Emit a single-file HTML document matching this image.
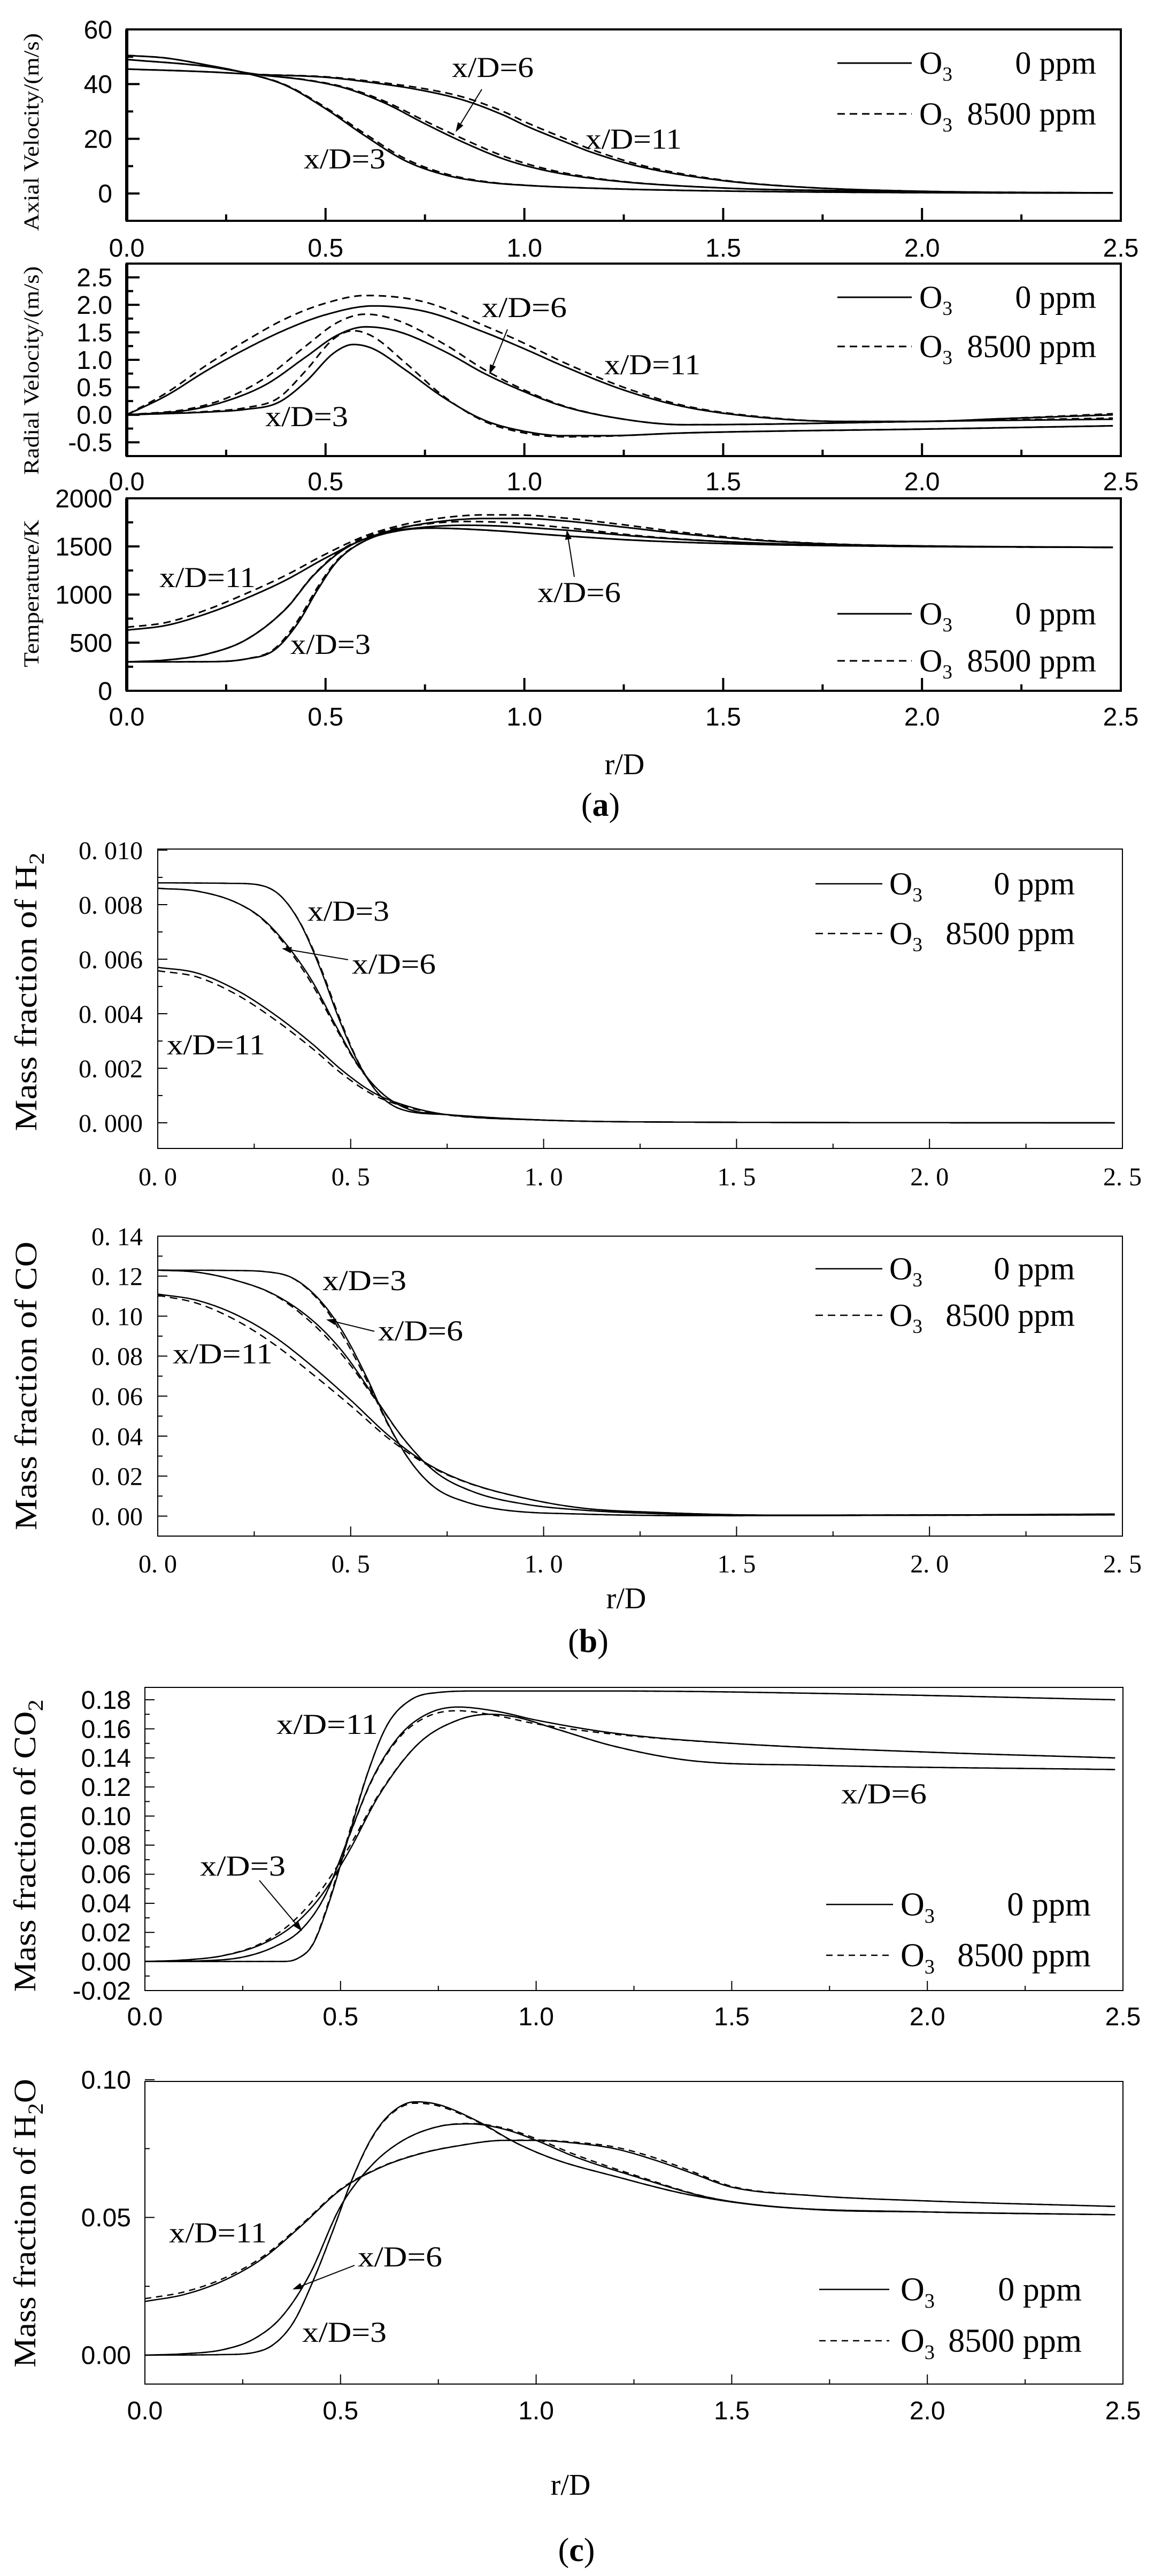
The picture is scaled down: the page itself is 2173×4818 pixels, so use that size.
<!DOCTYPE html>
<html><head><meta charset="utf-8"><style>
html,body{margin:0;padding:0;background:#fff;}
svg{display:block;}
</style></head><body>
<svg id="s" xmlns="http://www.w3.org/2000/svg" width="2173" height="4818" viewBox="0 0 2173 4818">
<rect width="2173" height="4818" fill="#fff"/>
<g font-family="Liberation Serif, serif" fill="#000">
<!-- captions -->
<text x="1123" y="1526" font-size="62" text-anchor="middle">(<tspan font-weight="bold">a</tspan>)</text>
<text x="1100" y="3090" font-size="62" text-anchor="middle">(<tspan font-weight="bold">b</tspan>)</text>
<text x="1078" y="4790" font-size="62" text-anchor="middle">(<tspan font-weight="bold">c</tspan>)</text>
<text x="1168" y="1448" font-size="56" text-anchor="middle">r/D</text>
<text x="1171" y="3008" font-size="56" text-anchor="middle">r/D</text>
<text x="1067" y="4666" font-size="56" text-anchor="middle">r/D</text>
<!-- y titles -->
<text transform="translate(72,247) rotate(-90)" font-size="40" text-anchor="middle" textLength="370" lengthAdjust="spacingAndGlyphs">Axial Velocity/(m/s)</text>
<text transform="translate(72,693) rotate(-90)" font-size="40" text-anchor="middle" textLength="390" lengthAdjust="spacingAndGlyphs">Radial Velocity/(m/s)</text>
<text transform="translate(72,1110) rotate(-90)" font-size="40" text-anchor="middle" textLength="276" lengthAdjust="spacingAndGlyphs">Temperature/K</text>
<text transform="translate(68,1855) rotate(-90)" font-size="58" text-anchor="middle" textLength="521" lengthAdjust="spacingAndGlyphs">Mass fraction of H<tspan font-size="40" dy="14">2</tspan></text>
<text transform="translate(68,2592) rotate(-90)" font-size="58" text-anchor="middle" textLength="540" lengthAdjust="spacingAndGlyphs">Mass fraction of CO</text>
<text transform="translate(66,3452) rotate(-90)" font-size="58" text-anchor="middle" textLength="547" lengthAdjust="spacingAndGlyphs">Mass fraction of CO<tspan font-size="40" dy="14">2</tspan></text>
<text transform="translate(66,4158) rotate(-90)" font-size="58" text-anchor="middle" textLength="540" lengthAdjust="spacingAndGlyphs">Mass fraction of H<tspan font-size="40" dy="14">2</tspan><tspan dy="-14">O</tspan></text>
<!-- annotations -->
<g font-size="54">
<text x="845" y="144" textLength="153" lengthAdjust="spacingAndGlyphs">x/D=6</text>
<text x="1095" y="278" textLength="180" lengthAdjust="spacingAndGlyphs">x/D=11</text>
<text x="568" y="315" textLength="153" lengthAdjust="spacingAndGlyphs">x/D=3</text>
<text x="901" y="593" textLength="159" lengthAdjust="spacingAndGlyphs">x/D=6</text>
<text x="1130" y="700" textLength="180" lengthAdjust="spacingAndGlyphs">x/D=11</text>
<text x="496" y="797" textLength="155" lengthAdjust="spacingAndGlyphs">x/D=3</text>
<text x="298" y="1098" textLength="180" lengthAdjust="spacingAndGlyphs">x/D=11</text>
<text x="543" y="1223" textLength="150" lengthAdjust="spacingAndGlyphs">x/D=3</text>
<text x="1005" y="1126" textLength="156" lengthAdjust="spacingAndGlyphs">x/D=6</text>
<text x="575" y="1722" textLength="153" lengthAdjust="spacingAndGlyphs">x/D=3</text>
<text x="658" y="1821" textLength="157" lengthAdjust="spacingAndGlyphs">x/D=6</text>
<text x="312" y="1972" textLength="184" lengthAdjust="spacingAndGlyphs">x/D=11</text>
<text x="603" y="2413" textLength="157" lengthAdjust="spacingAndGlyphs">x/D=3</text>
<text x="707" y="2507" textLength="159" lengthAdjust="spacingAndGlyphs">x/D=6</text>
<text x="323" y="2550" textLength="187" lengthAdjust="spacingAndGlyphs">x/D=11</text>
<text x="517" y="3243" textLength="190" lengthAdjust="spacingAndGlyphs">x/D=11</text>
<text x="1573" y="3373" textLength="160" lengthAdjust="spacingAndGlyphs">x/D=6</text>
<text x="374" y="3508" textLength="160" lengthAdjust="spacingAndGlyphs">x/D=3</text>
<text x="316" y="4194" textLength="183" lengthAdjust="spacingAndGlyphs">x/D=11</text>
<text x="669" y="4239" textLength="158" lengthAdjust="spacingAndGlyphs">x/D=6</text>
<text x="565" y="4380" textLength="158" lengthAdjust="spacingAndGlyphs">x/D=3</text>
</g>
</g>
<g id="dyn"></g>
</svg>
<script>
(function(){
var NS="http://www.w3.org/2000/svg";var G=document.getElementById("dyn");
function el(t,a,txt){var e=document.createElementNS(NS,t);for(var k in a)e.setAttribute(k,a[k]);if(txt!==undefined)e.textContent=txt;G.appendChild(e);return e;}
function interp(p){var n=p.length,xs=p.map(function(a){return a[0]}),ys=p.map(function(a){return a[1]}),d=[],m=[],i;
for(i=0;i<n-1;i++)d[i]=(ys[i+1]-ys[i])/(xs[i+1]-xs[i]);
m[0]=d[0];m[n-1]=d[n-2];for(i=1;i<n-1;i++)m[i]=(d[i-1]*d[i]<=0)?0:(d[i-1]+d[i])/2;
for(i=0;i<n-1;i++){if(d[i]===0){m[i]=0;m[i+1]=0;}else{var a=m[i]/d[i],b=m[i+1]/d[i],s=a*a+b*b;if(s>9){var t=3/Math.sqrt(s);m[i]=t*a*d[i];m[i+1]=t*b*d[i];}}}
return function(x){if(x<=xs[0])return ys[0];if(x>=xs[n-1])return ys[n-1];var k=0;while(x>xs[k+1])k++;var h=xs[k+1]-xs[k],t=(x-xs[k])/h,t2=t*t,t3=t2*t;
return (2*t3-3*t2+1)*ys[k]+(t3-2*t2+t)*h*m[k]+(-2*t3+3*t2)*ys[k+1]+(t3-t2)*h*m[k+1];};}
function sh(p,f){return p.map(function(a){return [a[0],a[1]+f(a[0])];});}
function bump(c,w,amp){return function(x){return amp*Math.exp(-Math.pow((x-c)/w,2));};}
function panel(c){
var L=c.L,R=c.R,T=c.T,B=c.B;
function X(r){return L+r/2.5*(R-L);}function Y(v){return T+(c.ymax-v)/(c.ymax-c.ymin)*(B-T);}
c.curves.forEach(function(cv){var f=interp(cv.p);var x1=cv.x1||2.48;var d="";for(var i=0;i<=300;i++){var r=x1*i/300;var y=Y(f(r));y=Math.max(T,Math.min(B,y));d+=(i?"L":"M")+X(r).toFixed(1)+","+y.toFixed(1);}
var a={d:d,fill:"none",stroke:"#000","stroke-width":c.lw};if(cv.dash)a["stroke-dasharray"]=c.dash;el("path",a);});
el("rect",{x:L,y:T,width:R-L,height:B-T,fill:"none",stroke:"#000","stroke-width":c.fw});
if(c.thickLeft){el("line",{x1:L,y1:T,x2:L,y2:B,stroke:"#000","stroke-width":c.thickLeft});}
for(var j=0;j<=10;j++){var r=j*0.25,maj=(j%2===0),x=X(r);if(j>0&&j<10)el("line",{x1:x,y1:B,x2:x,y2:B-(maj?c.tk:c.tk/2),stroke:"#000","stroke-width":c.tw});
if(maj)el("text",{x:x,y:c.xly,"font-size":c.fs,"font-family":c.ff,"text-anchor":"middle"},c.xfmt(r));}
c.yt.forEach(function(t){var y=Y(t[0]);el("line",{x1:L,y1:y,x2:L+(t[2]?c.tk:c.tk/2),y2:y,stroke:"#000","stroke-width":c.tw});
if(t[1]!==null)el("text",{x:c.ylx,y:y+c.fs*0.35,"font-size":c.fs,"font-family":c.ff,"text-anchor":"end"},t[1]);});
var lg=c.lg;el("line",{x1:lg.x1,y1:lg.y1,x2:lg.x2,y2:lg.y1,stroke:"#000","stroke-width":c.lw});
el("line",{x1:lg.x1,y1:lg.y2,x2:lg.x2,y2:lg.y2,stroke:"#000","stroke-width":c.lw,"stroke-dasharray":c.dash});
var fsL=lg.fs;
var t1=el("text",{x:lg.tx,y:lg.y1+fsL*0.33,"font-size":fsL,"font-family":"Liberation Serif, serif"});t1.innerHTML='O<tspan font-size="'+(fsL*0.62)+'" dy="'+(fsL*0.22)+'">3</tspan>';
el("text",{x:lg.end,y:lg.y1+fsL*0.33,"font-size":fsL,"font-family":"Liberation Serif, serif","text-anchor":"end"},"0 ppm");
var t2=el("text",{x:lg.tx,y:lg.y2+fsL*0.33,"font-size":fsL,"font-family":"Liberation Serif, serif"});t2.innerHTML='O<tspan font-size="'+(fsL*0.62)+'" dy="'+(fsL*0.22)+'">3</tspan>';
el("text",{x:lg.end,y:lg.y2+fsL*0.33,"font-size":fsL,"font-family":"Liberation Serif, serif","text-anchor":"end"},"8500 ppm");
(c.arrows||[]).forEach(function(a){var dx=a[2]-a[0],dy=a[3]-a[1],l=Math.sqrt(dx*dx+dy*dy),ux=dx/l,uy=dy/l,hl=18,hw=6;
el("line",{x1:a[0],y1:a[1],x2:a[2]-ux*hl,y2:a[3]-uy*hl,stroke:"#000","stroke-width":2});
var bx=a[2]-ux*hl,by=a[3]-uy*hl;el("polygon",{points:a[2]+","+a[3]+" "+(bx-uy*hw)+","+(by+ux*hw)+" "+(bx+uy*hw)+","+(by-ux*hw),fill:"#000"});});
}
function f1(r){return r.toFixed(1);}function fb(r){return r.toFixed(1).replace(".",". ");}
var SANS="Liberation Sans, sans-serif",SER="Liberation Serif, serif";
var v3=[[0,50.5],[0.1,49.5],[0.2,47],[0.3,44],[0.4,39.5],[0.5,31],[0.6,21],[0.7,12],[0.8,6.8],[0.9,4.2],[1.0,3],[1.2,1.8],[1.5,0.9],[2,0.3],[2.48,0.2]];
var v6=[[0,49],[0.2,46.5],[0.33,43.5],[0.45,41.5],[0.55,38.5],[0.65,33],[0.75,25.5],[0.85,18.5],[0.95,12.5],[1.05,8.5],[1.2,5],[1.5,2],[1.8,1],[2.2,0.3],[2.48,0.2]];
var v11=[[0,45.5],[0.2,44.5],[0.33,43.5],[0.5,42.5],[0.62,40.5],[0.75,37.5],[0.85,34],[0.95,28.5],[1.0,25],[1.1,19],[1.17,15],[1.3,9.5],[1.5,4.7],[1.7,2.3],[2,0.8],[2.48,0.2]];
panel({L:237,R:2096,T:55,B:413,ymin:-10,ymax:60,lw:3,fw:4,tw:4,tk:24,dash:"14,9",fs:48,ff:SANS,xly:480,ylx:210,xfmt:f1,thickLeft:6,
yt:[[0,"0",1],[10,null,0],[20,"20",1],[30,null,0],[40,"40",1],[50,null,0],[60,"60",1]],
curves:[{p:v3},{p:sh(v3,bump(0.65,0.2,0.8)),dash:1},{p:v6},{p:sh(v6,bump(0.85,0.25,1.2)),dash:1},{p:v11},{p:sh(v11,bump(1.0,0.35,1.3)),dash:1}],
lg:{x1:1566,x2:1705,y1:118,y2:213,tx:1719,end:2050,fs:60},arrows:[[901,167,852,247]]});
panel({L:237,R:2096,T:493,B:853,ymin:-0.75,ymax:2.75,lw:3,fw:4,tw:4,tk:24,dash:"14,9",fs:48,ff:SANS,xly:917,ylx:210,xfmt:f1,thickLeft:6,
yt:(function(){var o=[];for(var v=-0.5;v<=2.51;v+=0.25){var k=Math.round(v*4);o.push([v,(k%2===0)?v.toFixed(1):null,k%2===0]);}return o;})(),
curves:[{p:[[0,0],[0.1,0.35],[0.2,0.8],[0.3,1.2],[0.4,1.55],[0.5,1.82],[0.62,1.98],[0.75,1.88],[0.9,1.5],[1.0,1.2],[1.1,0.88],[1.25,0.45],[1.4,0.15],[1.6,-0.05],[1.8,-0.12],[2.0,-0.12],[2.2,-0.07],[2.48,0.0]]},
{p:[[0,0],[0.1,0.4],[0.2,0.9],[0.3,1.35],[0.4,1.75],[0.5,2.03],[0.6,2.17],[0.75,2.05],[0.9,1.62],[1.0,1.3],[1.1,0.95],[1.25,0.5],[1.4,0.17],[1.6,-0.04],[1.8,-0.12],[2.0,-0.12],[2.2,-0.07],[2.48,0.02]],dash:1},
{p:[[0,0],[0.15,0.08],[0.25,0.25],[0.35,0.55],[0.45,1.05],[0.53,1.45],[0.6,1.6],[0.68,1.52],[0.8,1.15],[0.9,0.75],[1.0,0.42],[1.1,0.15],[1.25,-0.08],[1.4,-0.18],[1.6,-0.17],[2.0,-0.12],[2.48,-0.08]]},
{p:[[0,0],[0.15,0.1],[0.25,0.3],[0.35,0.68],[0.45,1.25],[0.53,1.68],[0.6,1.83],[0.68,1.72],[0.8,1.28],[0.9,0.82],[1.0,0.45],[1.1,0.16],[1.25,-0.08],[1.4,-0.18],[1.6,-0.17],[2.0,-0.12],[2.48,-0.06]],dash:1},
{p:[[0,0],[0.2,0.05],[0.3,0.1],[0.38,0.22],[0.45,0.6],[0.52,1.12],[0.57,1.28],[0.62,1.2],[0.7,0.82],[0.8,0.3],[0.9,-0.1],[1.0,-0.3],[1.1,-0.38],[1.2,-0.38],[1.4,-0.33],[1.6,-0.3],[2.0,-0.26],[2.48,-0.2]]},
{p:[[0,0],[0.2,0.06],[0.3,0.13],[0.38,0.3],[0.45,0.8],[0.52,1.38],[0.57,1.53],[0.62,1.42],[0.7,0.95],[0.8,0.32],[0.9,-0.12],[1.0,-0.33],[1.1,-0.4],[1.2,-0.39],[1.4,-0.33],[1.6,-0.3],[2.0,-0.26],[2.48,-0.2]],dash:1}],
lg:{x1:1566,x2:1705,y1:556,y2:648,tx:1719,end:2050,fs:60},arrows:[[949,616,915,700]]});
var t6=[[0,300],[0.1,320],[0.2,380],[0.3,530],[0.4,850],[0.47,1200],[0.55,1480],[0.65,1640],[0.75,1700],[0.85,1720],[0.95,1710],[1.1,1670],[1.3,1600],[1.5,1550],[1.8,1510],[2.48,1490]];
var t3=[[0,300],[0.2,302],[0.3,330],[0.37,420],[0.43,700],[0.48,1050],[0.53,1350],[0.6,1560],[0.68,1660],[0.77,1690],[0.9,1670],[1.1,1610],[1.3,1560],[1.6,1520],[2.0,1500],[2.48,1490]];
panel({L:237,R:2096,T:932,B:1292,ymin:0,ymax:2000,lw:3,fw:4,tw:4,tk:24,dash:"14,9",fs:48,ff:SANS,xly:1357,ylx:210,xfmt:f1,thickLeft:6,
yt:(function(){var o=[];for(var v=0;v<=2000;v+=250){var k=v/250;o.push([v,(k%2===0)?String(v):null,k%2===0]);}return o;})(),
curves:[{p:[[0,630],[0.1,680],[0.2,800],[0.3,960],[0.4,1150],[0.5,1380],[0.6,1580],[0.7,1700],[0.8,1765],[0.9,1790],[1.0,1790],[1.1,1765],[1.25,1700],[1.4,1630],[1.6,1560],[1.8,1520],[2.0,1505],[2.48,1490]]},
{p:[[0,660],[0.1,710],[0.2,840],[0.3,1010],[0.4,1200],[0.5,1420],[0.6,1610],[0.7,1730],[0.8,1800],[0.9,1828],[1.0,1825],[1.1,1795],[1.25,1725],[1.4,1645],[1.6,1565],[1.8,1522],[2.0,1505],[2.48,1490]],dash:1},
{p:t6},{p:sh(t6,bump(0.9,0.3,40)),dash:1},{p:t3},{p:sh(t3,bump(0.45,0.08,30)),dash:1}],
lg:{x1:1566,x2:1705,y1:1148,y2:1236,tx:1719,end:2050,fs:60},arrows:[[1074,1079,1060,991]]});
var h3=[[0,0.0088],[0.2,0.00878],[0.27,0.0087],[0.32,0.0083],[0.37,0.0073],[0.42,0.0057],[0.47,0.0038],[0.52,0.0022],[0.57,0.0011],[0.63,0.0005],[0.75,0.0003],[1.0,0.0001],[1.3,0.00003],[2.48,0]];
var h6=[[0,0.0086],[0.1,0.0085],[0.2,0.0081],[0.27,0.0075],[0.33,0.0066],[0.4,0.0052],[0.46,0.0036],[0.52,0.0021],[0.58,0.0011],[0.65,0.0005],[0.75,0.0003],[1.0,0.0001],[1.3,0.00003],[2.48,0]];
var h11=[[0,0.0057],[0.1,0.0055],[0.2,0.0049],[0.3,0.004],[0.4,0.0029],[0.48,0.0019],[0.56,0.0011],[0.65,0.0006],[0.75,0.0003],[1.0,0.0001],[1.3,0.00003],[2.48,0]];
panel({L:295,R:2099,T:1588,B:2148,ymin:-0.00094,ymax:0.01004,lw:2.5,fw:2,tw:2,tk:18,dash:"14,9",fs:48,ff:SER,xly:2217,ylx:267,xfmt:fb,
yt:(function(){var o=[];for(var k=0;k<=10;k++){var v=k*0.001;o.push([v,(k%2===0)?("0. "+("00"+k).slice(-3)):null,k%2===0]);}return o;})(),
curves:[{p:h3},{p:sh(h3,bump(0.45,0.06,0.0001)),dash:1},{p:h6},{p:sh(h6,bump(0.4,0.1,-0.00012)),dash:1},{p:h11},{p:sh(h11,function(x){return -0.00017*Math.exp(-Math.pow((x-0.35)/0.25,2))-0.0001*Math.exp(-x*x/0.05);}),dash:1}],
lg:{x1:1525,x2:1650,y1:1653,y2:1746,tx:1663,end:2010,fs:60},arrows:[[651,1795,527,1774]]});
var co3=[[0,0.123],[0.2,0.1228],[0.28,0.1222],[0.35,0.119],[0.42,0.108],[0.48,0.092],[0.54,0.07],[0.6,0.045],[0.66,0.026],[0.72,0.014],[0.8,0.007],[0.9,0.003],[1.1,0.001],[1.5,0.0002],[2.48,0.001]];
var co6=[[0,0.123],[0.1,0.122],[0.2,0.118],[0.3,0.111],[0.4,0.098],[0.48,0.082],[0.56,0.06],[0.64,0.038],[0.72,0.022],[0.82,0.012],[0.95,0.006],[1.1,0.003],[1.3,0.0012],[1.6,0.0003],[2.48,0.0006]];
var co11=[[0,0.111],[0.1,0.108],[0.2,0.101],[0.3,0.09],[0.4,0.075],[0.5,0.058],[0.6,0.04],[0.7,0.026],[0.8,0.017],[0.95,0.009],[1.1,0.004],[1.3,0.0018],[1.6,0.0005],[2.48,0.0008]];
panel({L:295,R:2099,T:2312,B:2873,ymin:-0.01,ymax:0.14,lw:2.5,fw:2,tw:2,tk:18,dash:"14,9",fs:48,ff:SER,xly:2941,ylx:267,xfmt:fb,
yt:(function(){var o=[];for(var k=0;k<=14;k++){var v=k*0.01;o.push([v,(k%2===0)?("0. "+("0"+k).slice(-2)):null,k%2===0]);}return o;})(),
curves:[{p:co3},{p:sh(co3,bump(0.5,0.08,-0.002)),dash:1},{p:co6},{p:sh(co6,bump(0.45,0.1,-0.002)),dash:1},{p:co11},{p:sh(co11,bump(0.35,0.25,-0.004)),dash:1}],
lg:{x1:1525,x2:1650,y1:2373,y2:2460,tx:1663,end:2010,fs:60},arrows:[[700,2490,610,2468]]});
var cA=[[0,0],[0.35,0],[0.39,0.002],[0.43,0.012],[0.47,0.04],[0.52,0.085],[0.57,0.13],[0.62,0.163],[0.68,0.18],[0.75,0.185],[0.85,0.186],[1.2,0.186],[1.8,0.184],[2.48,0.18]];
var cB=[[0,0],[0.15,0.0005],[0.25,0.003],[0.33,0.01],[0.4,0.022],[0.46,0.045],[0.52,0.085],[0.58,0.125],[0.65,0.155],[0.72,0.17],[0.8,0.175],[0.9,0.172],[1.0,0.166],[1.2,0.157],[1.5,0.15],[2.0,0.144],[2.48,0.14]];
var cC=[[0,0],[0.1,0.001],[0.2,0.004],[0.3,0.012],[0.38,0.025],[0.45,0.045],[0.52,0.075],[0.6,0.115],[0.7,0.15],[0.8,0.166],[0.88,0.17],[0.95,0.168],[1.05,0.16],[1.2,0.148],[1.4,0.138],[1.7,0.135],[2.48,0.132]];
panel({L:271,R:2100,T:3156,B:3723,ymin:-0.02,ymax:0.1885,lw:2.5,fw:2,tw:2,tk:18,dash:"12,9",fs:48,ff:SANS,xly:3788,ylx:245,xfmt:f1,
yt:(function(){var o=[];for(var k=-2;k<=18;k++){var v=k*0.01;o.push([v,(k%2===0)?v.toFixed(2):null,k%2===0]);}return o;})(),
curves:[{p:cA},{p:sh(cA,bump(0.5,0.05,0.002)),dash:1},{p:cB},{p:sh(cB,bump(0.9,0.25,-0.003)),dash:1},{p:cC},{p:sh(cC,bump(0.45,0.12,0.004)),dash:1}],
lg:{x1:1545,x2:1670,y1:3562,y2:3657,tx:1684,end:2040,fs:62},arrows:[[485,3517,565,3612]]});
var w3=[[0,0],[0.2,0.0002],[0.28,0.001],[0.33,0.004],[0.38,0.012],[0.43,0.027],[0.48,0.045],[0.53,0.064],[0.58,0.079],[0.63,0.088],[0.69,0.092],[0.75,0.091],[0.85,0.085],[0.95,0.077],[1.05,0.071],[1.2,0.065],[1.4,0.058],[1.6,0.054],[2.0,0.052],[2.48,0.051]];
var w6=[[0,0],[0.1,0.0005],[0.2,0.002],[0.28,0.006],[0.35,0.014],[0.42,0.029],[0.5,0.054],[0.58,0.069],[0.66,0.078],[0.75,0.083],[0.83,0.084],[0.92,0.082],[1.0,0.078],[1.1,0.072],[1.25,0.065],[1.45,0.057],[1.7,0.053],[2.0,0.052],[2.48,0.051]];
var w11=[[0,0.0195],[0.1,0.022],[0.2,0.027],[0.3,0.035],[0.4,0.047],[0.5,0.06],[0.6,0.068],[0.7,0.073],[0.8,0.076],[0.92,0.078],[1.0,0.078],[1.1,0.077],[1.2,0.075],[1.3,0.071],[1.4,0.066],[1.5,0.061],[1.7,0.058],[2.0,0.056],[2.48,0.054]];
panel({L:271,R:2100,T:3893,B:4459,ymin:-0.0105,ymax:0.0994,lw:2.5,fw:2,tw:2,tk:18,dash:"12,9",fs:48,ff:SANS,xly:4525,ylx:245,xfmt:f1,
yt:[[0,"0.00",1],[0.025,null,0],[0.05,"0.05",1],[0.075,null,0],[0.1,"0.10",1]],
curves:[{p:w3},{p:sh(w3,bump(0.72,0.15,-0.0005)),dash:1},{p:w6},{p:sh(w6,bump(1.1,0.2,0.0008)),dash:1},{p:w11},{p:sh(w11,function(x){return 0.001*Math.exp(-x*x/0.2)+0.0008*Math.exp(-Math.pow((x-1.3)/0.2,2));}),dash:1}],
lg:{x1:1532,x2:1663,y1:4282,y2:4378,tx:1684,end:2023,fs:62},arrows:[[663,4237,547,4282]]});
})();
</script>
</body></html>
